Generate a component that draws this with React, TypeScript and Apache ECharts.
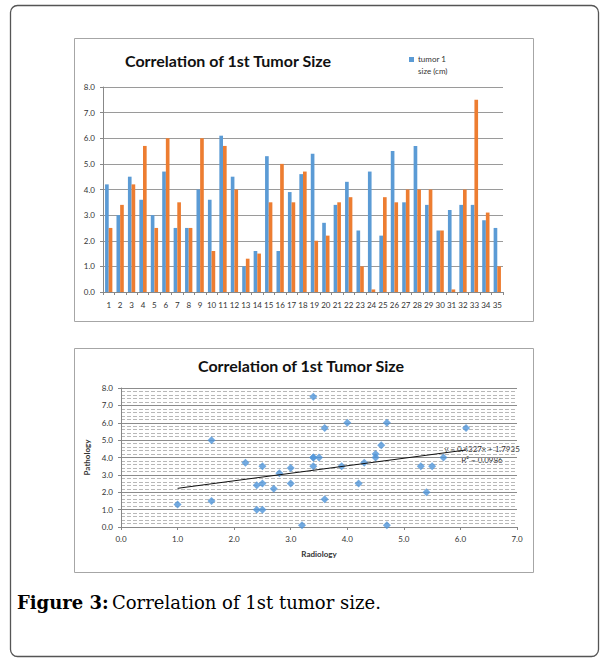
import React, { useEffect, useRef } from "react";
import * as echarts from "echarts";

const categories = ["1","2","3","4","5","6","7","8","9","10","11","12","13","14","15","16","17","18","19","20","21","22","23","24","25","26","27","28","29","30","31","32","33","34","35"];
const radiology = [4.2,3.0,4.5,3.6,3.0,4.7,2.5,2.5,4.0,3.6,6.1,4.5,1.0,1.6,5.3,1.6,3.9,4.6,5.4,2.7,3.4,4.3,2.4,4.7,2.2,5.5,3.5,5.7,3.4,2.4,3.2,3.4,3.4,2.8,2.5];
const pathology = [2.5,3.4,4.2,5.7,2.5,6.0,3.5,2.5,6.0,1.6,5.7,4.0,1.3,1.5,3.5,5.0,3.5,4.7,2.0,2.2,3.5,3.7,1.0,0.1,3.7,3.5,4.0,4.0,4.0,2.4,0.1,4.0,7.5,3.1,1.0];
const chartTitle = "Correlation of 1st Tumor Size";
const legendLines = ["tumor 1", "size (cm)"];
const trendText = ["y = 0.4327x + 1.7935", "R² = 0.0986"];
const caption = "Correlation of 1st tumor size.";

const BLUE = "#5b9bd5";
const ORANGE = "#ed7d31";
const FONT = "Lato";

function regression(xs: number[], ys: number[]) {
  const n = xs.length;
  const mx = xs.reduce((a, b) => a + b, 0) / n;
  const my = ys.reduce((a, b) => a + b, 0) / n;
  let sxy = 0, sxx = 0;
  for (let i = 0; i < n; i++) {
    sxy += (xs[i] - mx) * (ys[i] - my);
    sxx += (xs[i] - mx) * (xs[i] - mx);
  }
  const slope = sxy / sxx;
  return { slope, intercept: my - slope * mx };
}

export default function App() {
  const ref = useRef<HTMLDivElement>(null);
  useEffect(() => {
    if (!ref.current) return;
    const chart = echarts.init(ref.current, null, { renderer: "svg" });
    const { slope, intercept } = regression(radiology, pathology);
    const xmin = Math.min(...radiology);
    const xmax = Math.max(...radiology);
    const scatterData = radiology.map((r, i) => [r, pathology[i]]);
    const axisLabel = { fontFamily: FONT, fontSize: 8, color: "#333", formatter: (v: number) => v.toFixed(1) };
    chart.setOption({
      animation: false,
      backgroundColor: "#fff",
      textStyle: { fontFamily: FONT },
      title: [
        { text: chartTitle, left: 120, top: 47, textStyle: { fontFamily: FONT, fontSize: 16, fontWeight: "bold", color: "#111" } },
        { text: chartTitle, left: 193, top: 352, textStyle: { fontFamily: FONT, fontSize: 16, fontWeight: "bold", color: "#111" } },
      ],
      grid: [
        { left: 103, right: 104, top: 87, bottom: 367, containLabel: false },
        { left: 121, right: 90, top: 388, bottom: 132, containLabel: false },
      ],
      xAxis: [
        {
          gridIndex: 0, type: "category", data: categories,
          axisLine: { lineStyle: { color: "#888" } },
          axisTick: { show: true, length: 3, lineStyle: { color: "#888" } },
          axisLabel: { interval: 0, fontFamily: FONT, fontSize: 8, color: "#333", margin: 9 },
        },
        {
          gridIndex: 1, type: "value", min: 0, max: 7, interval: 1,
          axisLine: { show: true, lineStyle: { color: "#888" } },
          axisTick: { show: true, length: 3, lineStyle: { color: "#888" } },
          splitLine: { show: false },
          axisLabel: { ...axisLabel, margin: 8 },
          name: "Radiology", nameLocation: "middle", nameGap: 23,
          nameTextStyle: { fontFamily: FONT, fontSize: 8, fontWeight: "bold", color: "#333" },
        },
      ],
      yAxis: [
        {
          gridIndex: 0, type: "value", min: 0, max: 8, interval: 1,
          axisLine: { show: true, lineStyle: { color: "#888" } },
          axisTick: { show: true, length: 3, lineStyle: { color: "#888" } },
          splitLine: { lineStyle: { color: "#9a9a9a" } },
          axisLabel: { ...axisLabel, margin: 8 },
        },
        {
          gridIndex: 1, type: "value", min: 0, max: 8, interval: 1,
          axisLine: { show: true, lineStyle: { color: "#888" } },
          axisTick: { show: true, length: 3, lineStyle: { color: "#888" } },
          splitLine: { lineStyle: { color: "#8c8c8c" } },
          minorTick: { show: false, splitNumber: 5 },
          minorSplitLine: { show: true, lineStyle: { color: "#b8b8b8", type: "dashed", width: 1 } },
          axisLabel: { ...axisLabel, margin: 8 },
          name: "Pathology", nameLocation: "middle", nameGap: 16,
          nameTextStyle: { fontFamily: FONT, fontSize: 8, fontWeight: "bold", color: "#333" },
        },
      ],
      series: [
        {
          name: "tumor 1 size (cm)", type: "bar", xAxisIndex: 0, yAxisIndex: 0,
          data: radiology, itemStyle: { color: BLUE }, barGap: "0%", barCategoryGap: "36%",
        },
        {
          name: "Pathology", type: "bar", xAxisIndex: 0, yAxisIndex: 0,
          data: pathology, itemStyle: { color: ORANGE }, barGap: "0%", barCategoryGap: "36%",
        },
        {
          name: "Radiology vs Pathology", type: "scatter", xAxisIndex: 1, yAxisIndex: 1,
          data: scatterData, symbol: "diamond", symbolSize: 8, itemStyle: { color: "#4f95d9" },
        },
        {
          name: "Trend", type: "line", xAxisIndex: 1, yAxisIndex: 1, symbol: "none",
          data: [[xmin, slope * xmin + intercept], [xmax, slope * xmax + intercept]],
          lineStyle: { color: "#111", width: 1 },
        },
      ],
      graphic: [
        { type: "rect", shape: { x: 10.5, y: 5.5, width: 588, height: 651, r: 7 }, style: { fill: "none", stroke: "#555", lineWidth: 1.3 }, silent: true },
        { type: "rect", shape: { x: 74.5, y: 38.5, width: 459, height: 283 }, style: { fill: "none", stroke: "#a6a6a6", lineWidth: 1 }, silent: true },
        { type: "rect", shape: { x: 74.5, y: 348.5, width: 459, height: 224 }, style: { fill: "none", stroke: "#a6a6a6", lineWidth: 1 }, silent: true },
        { type: "rect", shape: { x: 409, y: 57, width: 5, height: 5 }, style: { fill: BLUE } },
        { type: "text", x: 418, y: 53, style: { text: legendLines.join("\n"), fontFamily: FONT, fontSize: 8, fill: "#333", lineHeight: 12, verticalAlign: "top" } },
        { type: "text", x: 482, y: 454, style: { text: trendText.join("\n"), fontFamily: FONT, fontSize: 8, fill: "#333", lineHeight: 11, align: "center", verticalAlign: "middle" } },
        {
          type: "text", x: 17, y: 602,
          style: {
            text: "{b|Figure 3:} {r|" + caption + "}",
            verticalAlign: "middle",
            rich: {
              b: { fontFamily: "DejaVu Serif", fontSize: 18, fontWeight: "bold", fill: "#000" },
              r: { fontFamily: "DejaVu Serif", fontSize: 18, fill: "#000" },
            },
          },
        },
      ],
    });
    return () => chart.dispose();
  }, []);
  return <div ref={ref} style={{ position: "absolute", left: 0, top: 0, width: 607, height: 659 }} />;
}
